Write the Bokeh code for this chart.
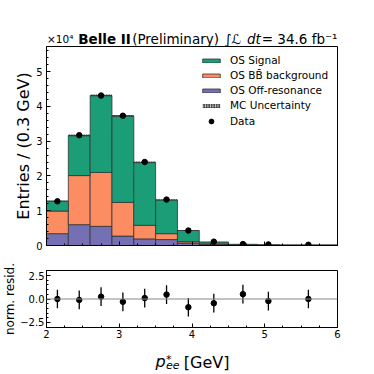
import numpy as np
from bokeh.plotting import figure
from bokeh.models import (ColumnDataSource, Range1d, FixedTicker, Legend,
                          LegendItem, Span, LinearAxis)
from bokeh.core.properties import value
from bokeh.layouts import column
from bokeh.embed import file_html
from bokeh.resources import INLINE

# ---------------- data (entries in units of 10^4) ----------------
bin_edges = [2.0, 2.3, 2.6, 2.9, 3.2, 3.5, 3.8, 4.1, 4.5, 4.9, 5.2, 6.0]
off_resonance = [0.34, 0.60, 0.55, 0.27, 0.19, 0.17, 0.07, 0.02, 0.005, 0.004, 0.003]
bb_background = [0.65, 1.41, 1.55, 0.97, 0.39, 0.17, 0.04, 0.02, 0.008, 0.003, 0.002]
os_signal = [0.28, 1.15, 2.21, 2.48, 1.81, 0.97, 0.32, 0.06, 0.022, 0.013, 0.010]
mc_uncertainty = [0.02, 0.03, 0.03, 0.03, 0.025, 0.02, 0.01, 0.005, 0.003, 0.002, 0.002]
data_values = [1.27, 3.17, 4.31, 3.73, 2.40, 1.32, 0.43, 0.11, 0.04, 0.03, 0.02]
data_errors = [0.011, 0.018, 0.021, 0.019, 0.015, 0.012, 0.007, 0.003, 0.002, 0.002, 0.001]
norm_resid = [0.0, -0.1, 0.25, -0.3, 0.1, 0.47, -0.88, -0.45, 0.52, -0.22, 0.0]
norm_resid_err = [1.0, 1.0, 1.0, 1.0, 1.0, 1.0, 1.0, 1.0, 1.0, 1.0, 1.0]
x_ticks = [2, 3, 4, 5, 6]
y_ticks_top = [0, 1, 2, 3, 4, 5]
y_ticks_resid = [-2.5, 0.0, 2.5]
resid_tick_labels = {-2.5: "\u22122.5", 0.0: "0.0", 2.5: "2.5"}

legend_labels = ["OS Signal", "OS BB\u0304 background", "OS Off-resonance",
                 "MC Uncertainty", "Data"]
title_texts = ["\u00d710\u2074", "Belle II", "(Preliminary)", "\u222b\u2112",
               "dt", "= 34.6 fb\u207b\u00b9"]
xlabel_texts = ["p", "*", "ee", "[GeV]"]
colors = {"sig": "#1b9e77", "bb": "#fc8d62", "off": "#7570b3"}

FONT = "DejaVu Sans"
W = 374
LEFT_B = 46
FRAME_W = 291
RIGHT_B = W - LEFT_B - FRAME_W

edges = np.array(bin_edges)
left, right = edges[:-1], edges[1:]
centers = (left + right) / 2
widths = right - left
total = np.array(off_resonance) + np.array(bb_background) + np.array(os_signal)
unc = np.array(mc_uncertainty)

src = ColumnDataSource(dict(x=centers, w=widths, off=off_resonance,
                            bb=bb_background, sig=os_signal))
band = ColumnDataSource(dict(left=left, right=right, bottom=total - unc,
                             top=total + unc))
dsrc = ColumnDataSource(dict(x=centers, y=data_values,
                             lo=np.array(data_values) - np.array(data_errors),
                             hi=np.array(data_values) + np.array(data_errors)))
rsrc = ColumnDataSource(dict(x=centers, y=norm_resid,
                             lo=np.array(norm_resid) - np.array(norm_resid_err),
                             hi=np.array(norm_resid) + np.array(norm_resid_err)))

x_range = Range1d(2, 6)
minor_x = list(np.arange(2, 6.001, 0.25))


def style_axis(ax):
    ax.axis_line_color = "black"
    ax.major_tick_in = 4
    ax.major_tick_out = 0
    ax.minor_tick_in = 2
    ax.minor_tick_out = 0
    ax.major_tick_line_color = "black"
    ax.minor_tick_line_color = "black"
    ax.major_label_text_font = FONT
    ax.major_label_text_font_size = "10px"
    ax.major_label_text_color = "black"
    ax.axis_label_text_font = FONT
    ax.axis_label_text_font_style = "normal"
    ax.axis_label_text_color = "black"
    ax.major_label_standoff = 4


def style_fig(p):
    p.xgrid.visible = False
    p.ygrid.visible = False
    p.outline_line_color = "black"
    p.outline_line_width = 1
    p.background_fill_color = "white"


def strip(height):
    s = figure(width=W, height=height, x_range=Range1d(0, FRAME_W),
               y_range=Range1d(0, height), output_backend="svg",
               toolbar_location=None, x_axis_location=None,
               y_axis_location=None, min_border_left=LEFT_B,
               min_border_right=RIGHT_B, min_border_top=0,
               min_border_bottom=0)
    s.outline_line_color = None
    s.xgrid.visible = False
    s.ygrid.visible = False
    return s


# ---------------- title strip (x in px from frame left) ----------------
TITLE_H = 46
ptitle = strip(TITLE_H)
tsrc = ColumnDataSource(dict(
    x=[0.5, 31.7, 85.7, 178, 200.5, FRAME_W],
    y=[7.2] * 6,
    text=title_texts,
    size=["10.5px", "13.5px", "13.5px", "13.5px", "13.5px", "13.5px"],
    style=["normal", "bold", "normal", "normal", "italic", "normal"],
    align=["left", "left", "left", "left", "left", "right"]))
ptitle.text(x="x", y="y", text="text", source=tsrc, text_font=value(FONT),
            text_font_size="size", text_font_style="style",
            text_color="black", text_baseline="alphabetic", text_align="align")

# ---------------- top panel ----------------
p1 = figure(width=W, height=211, x_range=x_range, y_range=Range1d(0, 5.72),
            output_backend="svg", toolbar_location=None, x_axis_location=None,
            min_border_left=LEFT_B, min_border_right=RIGHT_B,
            min_border_top=0, min_border_bottom=12)
style_fig(p1)
style_axis(p1.yaxis[0])
p1.yaxis.ticker = FixedTicker(ticks=y_ticks_top,
                              minor_ticks=list(np.arange(0, 5.7, 0.2)))
p1.yaxis.axis_label = "Entries / (0.3 GeV)"
p1.yaxis.axis_label_text_font_size = "16px"
p1.yaxis.axis_label_standoff = 0
# bottom edge ticks without labels (shared x with residual panel)
for tks, ln, line in ((minor_x, 2, "black"), (x_ticks, 4, None)):
    ax = LinearAxis(ticker=FixedTicker(ticks=[], minor_ticks=tks),
                    major_tick_in=0, major_tick_out=0, minor_tick_in=ln,
                    minor_tick_out=0, minor_tick_line_color="black",
                    axis_line_color=line, major_label_standoff=0)
    p1.add_layout(ax, "below")

stack = p1.vbar_stack(["off", "bb", "sig"], x="x", width="w", source=src,
                      fill_color=[colors["off"], colors["bb"], colors["sig"]],
                      line_color="#333333", line_width=0.8)
r_band = p1.quad(left="left", right="right", bottom="bottom", top="top",
                 source=band, fill_alpha=0, line_alpha=0,
                 hatch_pattern="/", hatch_color="#333333", hatch_scale=2.5,
                 hatch_weight=1.0)
p1.segment(x0="x", y0="lo", x1="x", y1="hi", source=dsrc, line_color="black",
           line_width=1.2)
r_data = p1.scatter(x="x", y="y", source=dsrc, size=5.5, color="black")

# legend location = bottom-left corner, in px from the frame's bottom-left
leg1 = Legend(items=[LegendItem(label=legend_labels[0], renderers=[stack[2]]),
                     LegendItem(label=legend_labels[1], renderers=[stack[1]]),
                     LegendItem(label=legend_labels[2], renderers=[stack[0]]),
                     LegendItem(label=legend_labels[3], renderers=[r_band])],
              location=(151, 131))
leg2 = Legend(items=[LegendItem(label=legend_labels[4], renderers=[r_data])],
              location=(151, 115))
for lg, gh in ((leg1, 5), (leg2, 12)):
    lg.glyph_width = 22
    lg.glyph_height = gh
    lg.label_height = 12
    lg.label_standoff = 8
    lg.spacing = 3
    lg.padding = 3
    lg.margin = 0
    lg.border_line_alpha = 0
    lg.background_fill_alpha = 0
    lg.label_text_font = FONT
    lg.label_text_font_size = "10.5px"
    lg.label_text_color = "black"
    p1.add_layout(lg)

# ---------------- residual panel ----------------
p2 = figure(width=W, height=86, x_range=x_range, y_range=Range1d(-3.05, 3.05),
            output_backend="svg", toolbar_location=None,
            min_border_left=LEFT_B, min_border_right=RIGHT_B,
            min_border_top=13, min_border_bottom=16)
style_fig(p2)
style_axis(p2.xaxis[0])
style_axis(p2.yaxis[0])
p2.xaxis.ticker = FixedTicker(ticks=x_ticks, minor_ticks=minor_x)
p2.xaxis.major_label_standoff = 2
p2.yaxis.ticker = FixedTicker(ticks=y_ticks_resid,
                              minor_ticks=list(np.arange(-3.0, 3.01, 0.5)))
p2.yaxis.major_label_overrides = resid_tick_labels
p2.yaxis.major_label_standoff = 2
p2.yaxis.axis_label = "norm. resid."
p2.yaxis.axis_label_text_font_size = "12px"
p2.yaxis.axis_label_standoff = 0

p2.add_layout(Span(location=0, dimension="width", line_color="#888888",
                   line_width=1))
p2.segment(x0="x", y0="lo", x1="x", y1="hi", source=rsrc, line_color="black",
           line_width=1.3)
p2.scatter(x="x", y="y", source=rsrc, size=5.5, color="black")

# ---------------- x-label strip (x in px from frame left) ----------------
XL_H = 31
pxl = strip(XL_H)
xsrc = ColumnDataSource(dict(
    x=[109, 119.5, 119.5, 137.3],
    y=[13, 15.5, 9.5, 12.5],
    text=xlabel_texts,
    size=["16px", "11px", "11px", "16px"],
    style=["italic", "normal", "italic", "normal"]))
pxl.text(x="x", y="y", text="text", source=xsrc, text_font=value(FONT),
         text_font_size="size", text_font_style="style",
         text_color="black", text_baseline="alphabetic", text_align="left")

layout = column(ptitle, p1, p2, pxl, spacing=0)
open("out.html", "w").write(file_html(layout, INLINE))
